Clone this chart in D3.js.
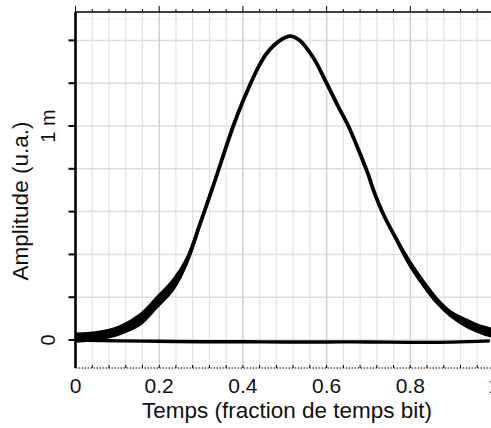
<!DOCTYPE html>
<html><head><meta charset="utf-8">
<script src="https://cdn.jsdelivr.net/npm/d3@7"></script>
<style>
html,body{margin:0;padding:0;background:#fff;overflow:hidden}
text{font-family:"Liberation Sans",Arial,sans-serif;fill:#111}
</style></head>
<body><svg id="c" width="491" height="428"></svg>
<script>
// Data (amplitude in milli-units)
const pulseX = [0,0.0585,0.106,0.154,0.194,0.234,0.266,0.298,0.329,0.377,0.401,0.433,0.457,0.489,0.513,0.536,0.568,0.6,0.628,0.652,0.68,0.7,0.712,0.735,0.767,0.799,0.831,0.863,0.895,0.935,0.967,0.993,1.0];
const pulseY = [0.015,0.022,0.045,0.095,0.175,0.26,0.37,0.545,0.72,1.0,1.12,1.26,1.34,1.40,1.42,1.40,1.32,1.20,1.09,1.0,0.87,0.77,0.70,0.59,0.47,0.355,0.265,0.185,0.125,0.078,0.05,0.035,0.033];
// noisy band envelopes (visible at both ends of the pulse)
const bandLX = [0,0.0585,0.106,0.154,0.194,0.234,0.266,0.298];
const bandLUp = [0.03,0.04,0.065,0.12,0.2,0.285,0.385,0.55];
const bandLLo = [-0.008,0.004,0.027,0.07,0.15,0.235,0.355,0.54];
const bandRX = [0.767,0.799,0.831,0.863,0.895,0.935,0.967,0.993];
const bandRUp = [0.475,0.37,0.278,0.197,0.137,0.095,0.068,0.054];
const bandRLo = [0.465,0.345,0.252,0.172,0.112,0.06,0.033,0.016];
const baseX = [0,0.1,0.2,0.3,0.4,0.5,0.6,0.7,0.8,0.9,0.99];
const baseY = [0.0,-0.004,-0.006,-0.008,-0.008,-0.009,-0.009,-0.009,-0.011,-0.01,-0.004];
const xTicks = [0,0.2,0.4,0.6,0.8,1];
const xTickLabels = ["0","0.2","0.4","0.6","0.8","1"];
const yTicks = [0,1];
const yTickLabels = ["0","1 m"];
const yMinorTicks = [0,0.2,0.4,0.6,0.8,1,1.2,1.4];
const xLabel = "Temps (fraction de temps bit)";
const yLabel = "Amplitude (u.a.)";

const svg = d3.select("#c");
const L=75.5, R=491, T=12, B=368;
const x = d3.scaleLinear().domain([0,1]).range([L,494]);
const y = d3.scaleLinear().domain([-0.1308,1.5327]).range([B,T]);

const xMinor = d3.range(0,26).map(i=>i*0.04);
const isMajor = d=>Math.abs(d/0.2-Math.round(d/0.2))<1e-6;
// vertical minor grid
svg.append("g").selectAll("line").data(xMinor.filter(v=>!isMajor(v)))
  .join("line").attr("x1",d=>x(d)).attr("x2",d=>x(d)).attr("y1",T).attr("y2",B)
  .attr("stroke","#e4e4e4").attr("stroke-width",1.3);
// horizontal grid
svg.append("g").selectAll("line").data(yMinorTicks)
  .join("line").attr("x1",L).attr("x2",R).attr("y1",d=>y(d)).attr("y2",d=>y(d))
  .attr("stroke","#dedede").attr("stroke-width",1.5);
// faint dotted lines near top and bottom
svg.append("g").selectAll("line").data([T+7,B-6]).join("line")
  .attr("x1",L).attr("x2",R).attr("y1",d=>d).attr("y2",d=>d)
  .attr("stroke","#e6e6e6").attr("stroke-width",1.2).attr("stroke-dasharray","2,2");
// vertical major grid
svg.append("g").selectAll("line").data(xTicks.slice(1))
  .join("line").attr("x1",d=>x(d)).attr("x2",d=>x(d)).attr("y1",T).attr("y2",B)
  .attr("stroke","#cfcfcf").attr("stroke-width",1.5);

// top axis
svg.append("line").attr("x1",L).attr("x2",R).attr("y1",T).attr("y2",T).attr("stroke","#000").attr("stroke-width",1.6);
svg.append("g").selectAll("line").data(xMinor).join("line")
  .attr("x1",d=>x(d)).attr("x2",d=>x(d)).attr("y1",T).attr("y2",d=>isMajor(d)?T-6:T-3)
  .attr("stroke","#000").attr("stroke-width",1);
// bottom dotted axis
svg.append("line").attr("x1",L).attr("x2",R).attr("y1",B).attr("y2",B).attr("stroke","#000").attr("stroke-width",1.2).attr("stroke-dasharray","1.5,1.5");
svg.append("g").selectAll("line").data(xMinor).join("line")
  .attr("x1",d=>x(d)).attr("x2",d=>x(d)).attr("y1",B).attr("y2",B-3)
  .attr("stroke","#000").attr("stroke-width",1);

// curves
const line = d3.line().x(d=>x(d[0])).y(d=>y(d[1])).curve(d3.curveCatmullRom.alpha(0.5));
const area = d3.area().x(d=>x(d[0])).y0(d=>y(d[1])).y1(d=>y(d[2])).curve(d3.curveCatmullRom.alpha(0.5));
svg.append("clipPath").attr("id","cp").append("rect").attr("x",L).attr("y",T).attr("width",R-L).attr("height",B-T);
const g = svg.append("g").attr("clip-path","url(#cp)");
g.append("path").attr("d",line(baseX.map((v,i)=>[v,baseY[i]]))).attr("fill","none").attr("stroke","#000").attr("stroke-width",3.4);
g.append("path").attr("d",area(bandLX.map((v,i)=>[v,bandLLo[i],bandLUp[i]]))).attr("fill","#000").attr("stroke","#000").attr("stroke-width",2);
g.append("path").attr("d",area(bandRX.map((v,i)=>[v,bandRLo[i],bandRUp[i]]))).attr("fill","#000").attr("stroke","#000").attr("stroke-width",2);
g.append("path").attr("d",line(pulseX.map((v,i)=>[v,pulseY[i]]))).attr("fill","none").attr("stroke","#000").attr("stroke-width",3.8);

// left axis
svg.append("line").attr("x1",L).attr("x2",L).attr("y1",T).attr("y2",B).attr("stroke","#000").attr("stroke-width",2.6);
svg.append("g").selectAll("line").data(yMinorTicks).join("line")
  .attr("x1",L-7).attr("x2",L).attr("y1",d=>y(d)).attr("y2",d=>y(d)).attr("stroke","#000").attr("stroke-width",2);

// tick labels
svg.append("g").selectAll("text").data(xTicks).join("text")
  .attr("x",d=>x(d)).attr("y",393).attr("text-anchor","middle").attr("font-size",21).text((d,i)=>xTickLabels[i]);
svg.append("g").selectAll("text").data(yTicks).join("text")
  .attr("transform",d=>`translate(55,${y(d)}) rotate(-90)`).attr("text-anchor","middle").attr("font-size",20).text((d,i)=>yTickLabels[i]);
// axis labels
svg.append("text").attr("x",287).attr("y",418).attr("text-anchor","middle").attr("font-size",22.5).text(xLabel);
svg.append("text").attr("transform","translate(28,201) rotate(-90)").attr("text-anchor","middle").attr("font-size",22.5).text(yLabel);
</script></body></html>
